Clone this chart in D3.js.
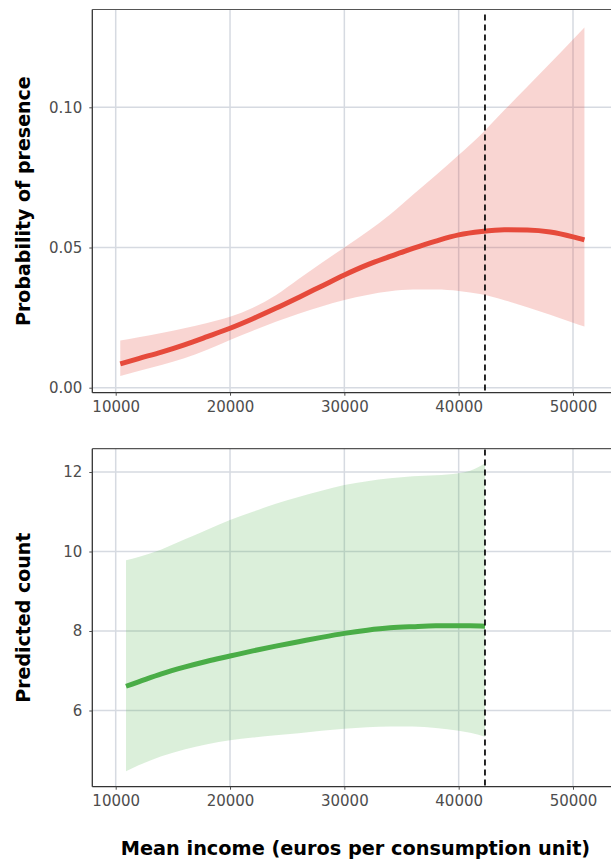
<!DOCTYPE html>
<html>
<head>
<meta charset="utf-8">
<script src="https://cdn.jsdelivr.net/npm/d3@7"></script>
<style>
  html, body { margin: 0; padding: 0; background: #fff; }
  svg { display: block; }
</style>
</head>
<body>
<svg id="chart" width="611" height="862"></svg>
<script>
// ---------------- DATA ----------------
const incomeTicks = [10000, 20000, 30000, 40000, 50000];
const probTicks = [0, 0.05, 0.10];
const countTicks = [6, 8, 10, 12];
const thresholdIncome = 42300;

// Probability of presence (top panel)
const probIncome = [10400, 12000, 14000, 16000, 18000, 20000, 22000, 24000, 26000, 28000, 30000,
                    32000, 34000, 36000, 38000, 40000, 42000, 44000, 46000, 48000, 50000, 51000];
const probFit   = [0.0085, 0.0104, 0.0127, 0.0153, 0.0182, 0.0212, 0.0246, 0.0283, 0.0322, 0.0362, 0.0402,
                   0.0438, 0.0468, 0.0497, 0.0523, 0.0545, 0.0557, 0.0563, 0.0562, 0.0555, 0.0538, 0.0527];
const probUpper = [0.0168, 0.0180, 0.0195, 0.0212, 0.0231, 0.0253, 0.0285, 0.0330, 0.0388, 0.0445, 0.0500,
                   0.0556, 0.0618, 0.0688, 0.0758, 0.0830, 0.0905, 0.0990, 0.1073, 0.1157, 0.1242, 0.1285];
const probLower = [0.0042, 0.0060, 0.0081, 0.0105, 0.0135, 0.0170, 0.0203, 0.0235, 0.0264, 0.0290, 0.0313,
                   0.0331, 0.0344, 0.0350, 0.0350, 0.0345, 0.0333, 0.0312, 0.0287, 0.0260, 0.0232, 0.0218];

// Predicted count (bottom panel)
const countIncome = [10900, 12000, 14000, 16000, 18000, 20000, 22000, 24000, 26000, 28000, 30000,
                     32000, 34000, 36000, 38000, 40000, 41000, 42300];
const countFit   = [6.61, 6.72, 6.92, 7.09, 7.24, 7.37, 7.50, 7.62, 7.73, 7.84, 7.94,
                    8.02, 8.08, 8.11, 8.13, 8.13, 8.13, 8.12];
const countUpper = [9.78, 9.86, 10.05, 10.30, 10.55, 10.79, 11.00, 11.20, 11.37, 11.53, 11.67,
                    11.77, 11.84, 11.89, 11.92, 11.97, 12.03, 12.22];
const countLower = [4.47, 4.62, 4.85, 5.02, 5.15, 5.25, 5.32, 5.38, 5.43, 5.49, 5.54,
                    5.58, 5.60, 5.60, 5.56, 5.49, 5.44, 5.34];

// ---------------- LAYOUT ----------------
const svg = d3.select("#chart");
const FONT = "'DejaVu Sans', Verdana, sans-serif";
const panelLeft = 92.3, panelRight = 650;
const x = d3.scaleLinear().domain([10000, 50000]).range([115.7, 573]);

const panels = [
  {
    top: 9.5, bottom: 392.7, dashStart: 14.5,
    y: d3.scaleLinear().domain([0, 0.10]).range([387.7, 107.3]),
    ticks: probTicks, fmt: d3.format(".2f"),
    title: "Probability of presence",
    xs: probIncome, fit: probFit, up: probUpper, lo: probLower,
    line: "#e64a3b", fill: "#e64a3b", fillOpacity: 0.23
  },
  {
    top: 448.7, bottom: 786.7, dashStart: 449.5,
    y: d3.scaleLinear().domain([6, 12]).range([710.5, 472]),
    ticks: countTicks, fmt: d3.format("d"),
    title: "Predicted count",
    xs: countIncome, fit: countFit, up: countUpper, lo: countLower,
    line: "#4aad47", fill: "#4aad47", fillOpacity: 0.2
  }
];

panels.forEach(p => {
  const g = svg.append("g");
  const y = p.y;

  // gridlines
  g.append("g").selectAll("line").data(incomeTicks).join("line")
    .attr("x1", d => x(d)).attr("x2", d => x(d))
    .attr("y1", p.top).attr("y2", p.bottom)
    .attr("stroke", "#d6dae1").attr("stroke-width", 1.5);
  g.append("g").selectAll("line").data(p.ticks).join("line")
    .attr("x1", panelLeft).attr("x2", panelRight)
    .attr("y1", d => y(d)).attr("y2", d => y(d))
    .attr("stroke", "#d6dae1").attr("stroke-width", 1.5);

  // ribbon
  const data = p.xs.map((v, i) => ({ x: v, fit: p.fit[i], up: p.up[i], lo: p.lo[i] }));
  const area = d3.area().curve(d3.curveMonotoneX)
    .x(d => x(d.x)).y0(d => y(d.lo)).y1(d => y(d.up));
  g.append("path").datum(data).attr("d", area)
    .attr("fill", p.fill).attr("fill-opacity", p.fillOpacity).attr("stroke", "none");

  // fit line
  const line = d3.line().curve(d3.curveMonotoneX).x(d => x(d.x)).y(d => y(d.fit));
  g.append("path").datum(data).attr("d", line)
    .attr("fill", "none").attr("stroke", p.line).attr("stroke-width", 5)
    .attr("stroke-linecap", "butt");

  // threshold dashed line
  g.append("line")
    .attr("x1", x(thresholdIncome)).attr("x2", x(thresholdIncome))
    .attr("y1", p.dashStart).attr("y2", p.bottom)
    .attr("stroke", "#111").attr("stroke-width", 1.8).attr("stroke-dasharray", "6,4");

  // frame: top border, left & bottom axis lines
  g.append("line").attr("x1", panelLeft).attr("x2", panelRight)
    .attr("y1", p.top).attr("y2", p.top).attr("stroke", "#555").attr("stroke-width", 1.2);
  g.append("line").attr("x1", panelLeft).attr("x2", panelLeft)
    .attr("y1", p.top).attr("y2", p.bottom).attr("stroke", "#333").attr("stroke-width", 1.3);
  g.append("line").attr("x1", panelLeft).attr("x2", panelRight)
    .attr("y1", p.bottom).attr("y2", p.bottom).attr("stroke", "#333").attr("stroke-width", 1.3);

  // y axis ticks + labels
  const ya = d3.axisLeft(y).tickValues(p.ticks).tickFormat(p.fmt).tickSize(3).tickPadding(7);
  const yg = g.append("g").attr("transform", `translate(${panelLeft},0)`).call(ya);
  yg.select(".domain").remove();
  yg.selectAll(".tick line").attr("stroke", "#4d4d4d");
  yg.selectAll("text").attr("fill", "#4d4d4d").style("font-family", FONT).style("font-size", "15px");

  // x axis ticks + labels
  const xa = d3.axisBottom(x).tickValues(incomeTicks).tickFormat(d3.format("d")).tickSize(3).tickPadding(6);
  const xg = g.append("g").attr("transform", `translate(0,${p.bottom})`).call(xa);
  xg.select(".domain").remove();
  xg.selectAll(".tick line").attr("stroke", "#4d4d4d");
  xg.selectAll("text").attr("fill", "#4d4d4d").style("font-family", FONT).style("font-size", "15px");

  // y title
  g.append("text")
    .attr("transform", `translate(29.5,${(p.top + p.bottom) / 2}) rotate(-90)`)
    .attr("text-anchor", "middle")
    .style("font-family", FONT).style("font-size", "19px").style("font-weight", "bold")
    .attr("fill", "#000").text(p.title);
});

// x title
svg.append("text")
  .attr("x", 355.5).attr("y", 855)
  .attr("text-anchor", "middle")
  .style("font-family", FONT).style("font-size", "19.3px").style("font-weight", "bold")
  .attr("fill", "#000").text("Mean income (euros per consumption unit)");
</script>
</body>
</html>
